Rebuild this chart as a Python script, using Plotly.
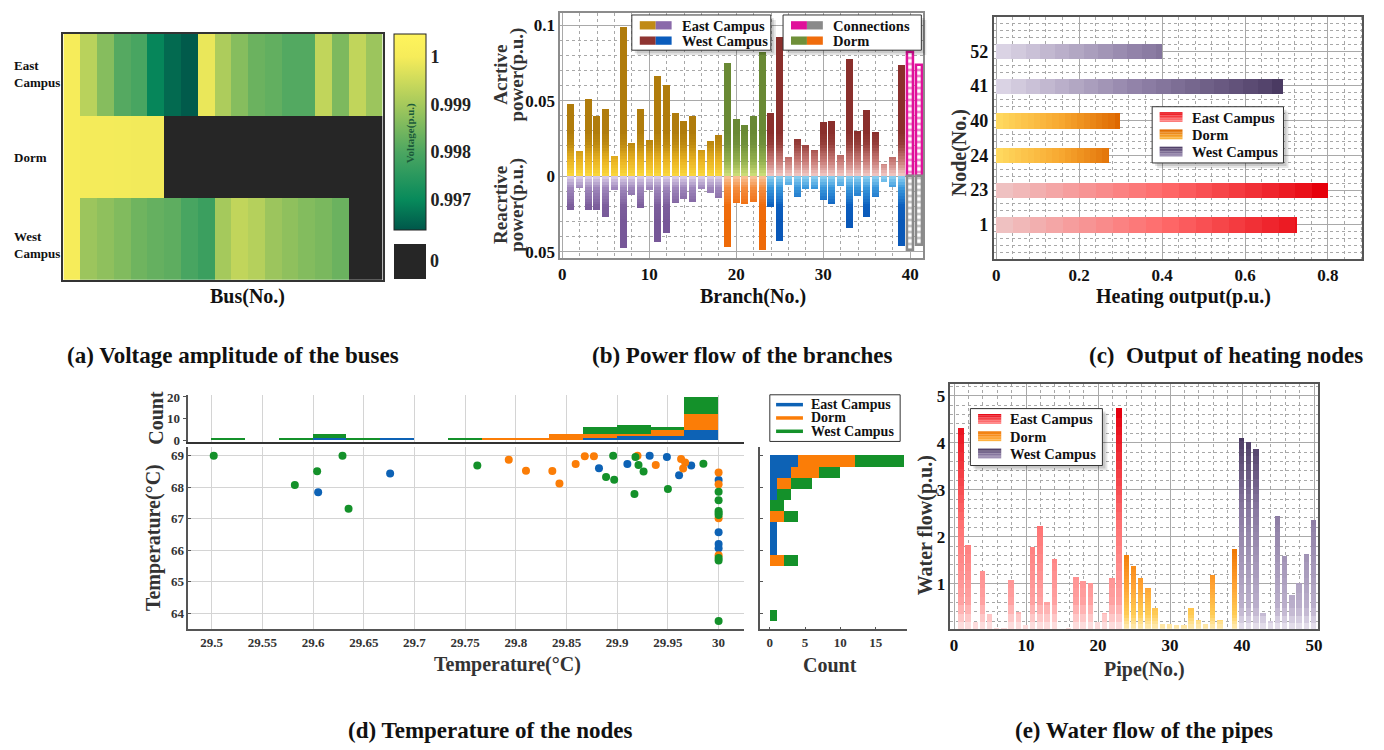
import plotly.graph_objects as go

# the page body has an 8px margin, so the figure is 8px smaller than the window
W, H = 1376, 742
OFF = 8
SERIF = "Liberation Serif, Times New Roman, DejaVu Serif, serif"


def px(x):
    return (x - OFF) / W


def py(y):
    return 1 - (y - OFF) / H


def xdom(a, b):
    return [max(0.0, px(a)), min(1.0, px(b))]


def ydom(bottom, top):
    return [max(0.0, py(bottom)), min(1.0, py(top))]


# ---------------- (a) bus voltages ----------------
bus_ids = list(range(1, 20))
row_pos = [0, 1, 2]
row_names = ["West<br>Campus", "Dorm", "East<br>Campus"]
volt_east = [1.0, 0.99925, 0.99865, 0.9981, 0.99795, 0.99695, 0.9966, 0.99642, 0.99985,
             0.9991, 0.99865, 0.99835, 0.99825, 0.99808, 0.99808, 0.99935, 0.99855, 0.99935, 0.9989]
volt_dorm = [1.0, 0.99998, 0.99997, 0.99996, 0.99995, 0.99995] + [None] * 13
volt_west = [1.0, 0.9989, 0.99875, 0.9986, 0.9984, 0.99828, 0.9982, 0.99795, 0.99775,
             0.9990, 0.99935, 0.9992, 0.9989, 0.99875, 0.99862, 0.99852, 0.99835, None, None]
V_MIN, V_MAX = 0.99637, 1.00048
cb_ticks = [0.997, 0.998, 0.999, 1.0]
cb_labels = ["0.997", "0.998", "0.999", "1"]

# ---------------- (b) branch power flow ----------------
branch_ids = list(range(1, 42))
branch_group = ["East"] * 18 + ["Dorm"] * 5 + ["West"] * 16 + ["Conn"] * 2
active_p = [0.048, 0.0169, 0.051, 0.040, 0.0443, 0.013, 0.099, 0.022, 0.0447, 0.0237,
            0.0664, 0.060, 0.0417, 0.0366, 0.040, 0.0175, 0.023, 0.0274,
            0.075, 0.0377, 0.034, 0.0395, 0.0825,
            0.0417, 0.092, 0.0127, 0.0246, 0.0204, 0.0175, 0.0357, 0.0368, 0.0138, 0.0778,
            0.0296, 0.0439, 0.029, 0.0081, 0.0125, 0.0737,
            0.0822, 0.0735]
reactive_q = [0.0224, 0.0081, 0.0224, 0.0224, 0.0268, 0.0092, 0.0476, 0.0127, 0.0213, 0.0092,
              0.0439, 0.0377, 0.0175, 0.0149, 0.0169, 0.0088, 0.011, 0.0143,
              0.0471, 0.018, 0.0186, 0.0169, 0.0489,
              0.0202, 0.0428, 0.0057, 0.0136, 0.0088, 0.0088, 0.016, 0.0186, 0.0066, 0.0346,
              0.0132, 0.0274, 0.0138, 0.0037, 0.007, 0.046,
              0.0487, 0.0456]

# ---------------- (c) heating output ----------------
heat_nodes = ["1", "23", "24", "40", "41", "52"]
heat_group = ["East", "East", "Dorm", "Dorm", "West", "West"]
heat_out = [0.725, 0.80, 0.272, 0.298, 0.69, 0.398]

# ---------------- (d) node temperatures ----------------
east_x = [29.605, 29.676, 29.882, 29.91, 29.932, 29.949, 29.961, 29.973, 30, 30, 30, 30]
east_y = [67.84, 68.44, 68.61, 68.74, 69.0, 68.96, 68.38, 68.69, 68.23, 66.57, 66.2, 66.06]
dorm_x = [29.793, 29.81, 29.836, 29.843, 29.859, 29.868, 29.877, 29.92, 29.938, 29.963,
          29.965, 29.967, 30, 30, 30, 30]
dorm_y = [68.88, 68.53, 68.52, 68.12, 68.74, 68.99, 68.99, 69.0, 68.71, 68.9,
          68.6, 68.79, 68.47, 68.1, 67.02, 65.84]
west_x = [29.502, 29.582, 29.604, 29.629, 29.635, 29.762, 29.889, 29.896, 29.897, 29.917,
          29.918, 29.921, 29.926, 29.95, 29.985, 30, 30, 30, 30, 30, 30, 30, 30]
west_y = [69.0, 68.07, 68.51, 69.0, 67.32, 68.69, 68.33, 69.0, 68.24, 67.79,
          68.96, 68.71, 68.5, 67.95, 68.75, 67.86, 67.59, 67.25, 67.18, 67.12, 65.75, 65.67, 63.75]
# histogram over supply temperature (x): 15 bins of 1/30 starting at 29.5
tx_centers = [29.5 + (k + 0.5) / 30 for k in range(15)]
tx_width = 1 / 30
tx_east = [0, 0, 0, 1, 0, 1, 0, 0, 0, 0, 0, 1, 2, 2, 5]
tx_dorm = [0, 0, 0, 0, 0, 0, 0, 0, 1, 1, 3, 2, 1, 3, 7]
tx_west = [1, 0, 1, 2, 1, 0, 0, 1, 0, 0, 0, 3, 4, 1, 8]
# histogram over return temperature (y): 15 bins of 0.35 starting at 63.75
ty_centers = [63.75 + 0.35 * (k + 0.5) for k in range(15)]
ty_width = 0.35
ty_east = [0, 0, 0, 0, 0, 0, 1, 1, 1, 0, 0, 1, 1, 3, 4]
ty_dorm = [0, 0, 0, 0, 0, 2, 0, 0, 0, 2, 0, 0, 2, 4, 8]
ty_west = [1, 0, 0, 0, 0, 2, 0, 0, 0, 2, 2, 2, 3, 3, 7]

# ---------------- (e) pipe water flow ----------------
pipe_ids = list(range(1, 51))
pipe_group = ["East"] * 23 + ["Dorm"] * 16 + ["West"] * 11
water_flow = [4.31, 1.82, 0.18, 1.28, 0.36, 0.06, 0.05, 1.09, 0.40, 0.13,
              1.79, 2.24, 0.62, 1.52, 0.03, 0.07, 1.14, 1.06, 1.01, 0.18,
              0.39, 1.12, 4.75, 1.61, 1.37, 1.13, 0.92, 0.48, 0.15, 0.14,
              0.12, 0.12, 0.48, 0.22, 0.15, 1.19, 0.22, 0.03, 1.75, 4.11,
              4.02, 3.86, 0.39, 0.20, 2.44, 1.60, 0.76, 1.02, 1.64, 2.35]

areas = ["East Campus", "Dorm", "West Campus"]
area_keys = ["East", "Dorm", "West"]


# ---------------- styling helpers ----------------
def hex_rgb(h):
    h = h.lstrip('#')
    return tuple(int(h[i:i + 2], 16) for i in (0, 2, 4))


def ramp(stops, t):
    if t <= stops[0][0]:
        return 'rgb(%d,%d,%d)' % hex_rgb(stops[0][1])
    for (v0, c0), (v1, c1) in zip(stops, stops[1:]):
        if t <= v1:
            f = (t - v0) / (v1 - v0)
            a, b = hex_rgb(c0), hex_rgb(c1)
            return 'rgb(%d,%d,%d)' % tuple(round(a[i] + (b[i] - a[i]) * f) for i in range(3))
    return 'rgb(%d,%d,%d)' % hex_rgb(stops[-1][1])


def font(size, color='#111111'):
    return dict(family=SERIF, size=size, weight='bold', color=color)


def gradient_bars(fig, pos, vals, groups, stops, xa, ya, width, sign=1, horizontal=False, n=18):
    """Overlay of clipped copies of the same bars to imitate a colour gradient."""
    for k in range(n):
        vk, ck = [], []
        for v, g in zip(vals, groups):
            if g not in stops or v is None:
                vk.append(None)
                ck.append('white')
                continue
            R = stops[g][-1][0]
            if k == 0:
                vk.append(sign * v)
                ck.append(ramp(stops[g], R))
            else:
                t = R * (1 - k / n)
                vk.append(sign * min(v, t))
                ck.append(ramp(stops[g], t - R / (2 * n)))
        kw = dict(marker=dict(color=ck, line=dict(width=0)), width=width, xaxis=xa, yaxis=ya,
                  showlegend=False, hoverinfo='skip')
        if horizontal:
            fig.add_trace(go.Bar(x=vk, y=pos, orientation='h', **kw))
        else:
            fig.add_trace(go.Bar(x=pos, y=vk, **kw))


fig = go.Figure()

# ---------------- (a) traces ----------------
volt_z = [volt_west, volt_dorm, volt_east]
zero_z = [[0 if v is None else None for v in row] for row in volt_z]
volt_scale = [[0.0, '#00574a'], [0.153, '#078a5b'], [0.397, '#4ca661'], [0.64, '#a5c95c'],
              [0.883, '#f6ec5a'], [1.0, '#fff45c']]
fig.add_trace(go.Heatmap(
    x=bus_ids, y=row_pos, z=volt_z, zmin=V_MIN, zmax=V_MAX, colorscale=volt_scale,
    xaxis='x', yaxis='y', hoverinfo='skip',
    colorbar=dict(x=px(394), xanchor='left', y=py(128.5), yanchor='middle', len=199 / H,
                  lenmode='fraction', thickness=32, thicknessmode='pixels', outlinewidth=1,
                  outlinecolor='#222222', xpad=0, ypad=0, tickvals=cb_ticks, ticktext=cb_labels,
                  ticks='', tickfont=font(18, '#222222'))))
fig.add_trace(go.Heatmap(
    x=bus_ids, y=row_pos, z=zero_z, zmin=-1, zmax=1,
    colorscale=[[0, '#262626'], [1, '#262626']], xaxis='x', yaxis='y', hoverinfo='skip',
    colorbar=dict(x=px(394), xanchor='left', y=py(259.5), yanchor='middle', len=35 / H,
                  lenmode='fraction', thickness=32, thicknessmode='pixels', outlinewidth=0,
                  xpad=0, ypad=0, tickvals=[0], ticktext=['0'], ticks='',
                  tickfont=font(18, '#222222'))))

# ---------------- (b) traces ----------------
act_stops = {
    'East': [(0, '#fbd83c'), (0.01, '#eab423'), (0.022, '#bb870f'), (0.03, '#b07c0c')],
    'Dorm': [(0, '#cfe07a'), (0.01, '#93b04e'), (0.022, '#6f8f39'), (0.03, '#698934')],
    'West': [(0, '#f3cac6'), (0.01, '#c77a76'), (0.022, '#933b37'), (0.03, '#8a2f2c')],
}
rea_stops = {
    'East': [(0, '#ddd0ea'), (0.008, '#a088bc'), (0.02, '#7c5e9c'), (0.03, '#775898')],
    'Dorm': [(0, '#fac49a'), (0.008, '#f48d40'), (0.02, '#f06c0c'), (0.03, '#ee6a08')],
    'West': [(0, '#8fd2f2'), (0.008, '#3a98dc'), (0.02, '#0c5ebe'), (0.03, '#0a58b8')],
}
gradient_bars(fig, branch_ids, active_p, branch_group, act_stops, 'x2', 'y2', 0.8, sign=1, n=16)
gradient_bars(fig, branch_ids, reactive_q, branch_group, rea_stops, 'x2', 'y2', 0.8, sign=-1, n=16)
conn_x = [b for b, g in zip(branch_ids, branch_group) if g == 'Conn']
conn_p = [v for v, g in zip(active_p, branch_group) if g == 'Conn']
conn_q = [-v for v, g in zip(reactive_q, branch_group) if g == 'Conn']
for vals, col in ((conn_p, '#e0109a'), (conn_q, '#8a8a8a')):
    fig.add_trace(go.Bar(
        x=conn_x, y=vals, width=0.72, xaxis='x2', yaxis='y2', showlegend=False, hoverinfo='skip',
        marker=dict(color='white', line=dict(color=col, width=2.5),
                    pattern=dict(shape='-', fgcolor=col, bgcolor='white', size=6, solidity=0.45))))

# ---------------- (c) traces ----------------
heat_pos = list(range(1, len(heat_nodes) + 1))
heat_stops = {
    'East': [(0, '#eec6c6'), (0.4, '#ff6b6b'), (0.8, '#e6000b')],
    'Dorm': [(0, '#ffda60'), (0.15, '#f8aa32'), (0.3, '#de6800')],
    'West': [(0, '#ded7e7'), (0.35, '#8e7fa6'), (0.7, '#4a3a62')],
}
gradient_bars(fig, heat_pos, heat_out, heat_group, heat_stops, 'x3', 'y3', 0.45, horizontal=True, n=20)

# ---------------- (d) traces ----------------
d_cols = {'East': '#0d62b5', 'Dorm': '#fb7d07', 'West': '#14912a'}
tx_counts = {'East': tx_east, 'Dorm': tx_dorm, 'West': tx_west}
ty_counts = {'East': ty_east, 'Dorm': ty_dorm, 'West': ty_west}
base_x = [0] * len(tx_centers)
base_y = [0] * len(ty_centers)
for key in area_keys:
    c = tx_counts[key]
    fig.add_trace(go.Bar(x=tx_centers, y=c, base=base_x, width=tx_width, xaxis='x5', yaxis='y5',
                         marker=dict(color=d_cols[key], line=dict(width=0)), showlegend=False,
                         hoverinfo='skip'))
    base_x = [b + v for b, v in zip(base_x, c)]
    c = ty_counts[key]
    fig.add_trace(go.Bar(y=ty_centers, x=c, base=base_y, width=ty_width, orientation='h',
                         xaxis='x6', yaxis='y6', marker=dict(color=d_cols[key], line=dict(width=0)),
                         showlegend=False, hoverinfo='skip'))
    base_y = [b + v for b, v in zip(base_y, c)]
for key, xs, ys in (('East', east_x, east_y), ('Dorm', dorm_x, dorm_y), ('West', west_x, west_y)):
    fig.add_trace(go.Scatter(x=xs, y=ys, mode='markers', xaxis='x4', yaxis='y4',
                             marker=dict(color=d_cols[key], size=8), showlegend=False,
                             hoverinfo='skip'))

# ---------------- (e) traces ----------------
flow_stops = {
    'East': [(0, '#fde6e6'), (0.6, '#ffa2a2'), (2.2, '#ff7474'), (4.7, '#e5000f')],
    'Dorm': [(0, '#fff3c8'), (0.35, '#ffcc55'), (1.0, '#ffa030'), (1.8, '#ee7400')],
    'West': [(0, '#ebe6f0'), (0.5, '#bcb0cc'), (2.5, '#8a7aa2'), (4.2, '#4a3a62')],
}
gradient_bars(fig, pipe_ids, water_flow, pipe_group, flow_stops, 'x7', 'y7', 0.75, n=26)


# ---------------- axes ----------------
def boxed(domain, rng, anchor, tickvals, ticktext, minor_dtick, size=17, linecolor='#555555'):
    return dict(domain=domain, range=rng, anchor=anchor, tickmode='array', tickvals=tickvals,
                ticktext=ticktext, showgrid=True, gridcolor='#a9a9a9', gridwidth=1, zeroline=False,
                showline=True, mirror=True, linecolor=linecolor, linewidth=1.5, ticks='',
                tickfont=font(size), fixedrange=True,
                minor=dict(tickmode='linear', tick0=0, dtick=minor_dtick, showgrid=True,
                           gridcolor='#a8a8a8', griddash='dot', gridwidth=1, ticks=''))


d_font = font(13, '#333333')
lay = dict(
    width=W, height=H, margin=dict(l=0, r=0, t=0, b=0),
    paper_bgcolor='white', plot_bgcolor='white', barmode='overlay', bargap=0,
    showlegend=False,
    xaxis=dict(domain=xdom(61.7, 382.7), range=[0.5, 19.5], anchor='y', showticklabels=False,
               ticks='', showgrid=False, zeroline=False, showline=True, mirror=True,
               linecolor='#333333', linewidth=1.5),
    yaxis=dict(domain=ydom(278.3, 29.3), range=[-0.5, 2.5], anchor='x', showticklabels=False,
               ticks='', showgrid=False, zeroline=False, showline=True, mirror=True,
               linecolor='#333333', linewidth=1.5),
    xaxis2=boxed(xdom(561, 926), [-0.25, 41.5], 'y2', [0, 10, 20, 30, 40],
                 ['0', '10', '20', '30', '40'], 2, linecolor='#8c8c8c'),
    yaxis2=boxed(ydom(256, 8), [-0.054, 0.108], 'x2', [-0.05, 0, 0.05, 0.1],
                 ['0.05', '0', '0.05', '0.1'], 0.01, linecolor='#8c8c8c'),
    xaxis3=boxed(xdom(996.7, 1367.3), [-0.006, 0.883], 'y3', [0, 0.2, 0.4, 0.6, 0.8],
                 ['0', '0.2', '0.4', '0.6', '0.8'], 0.04),
    yaxis3=boxed(ydom(257.7, 11.7), [0, 7], 'x3', heat_pos, heat_nodes, 0.2, size=18),
    xaxis7=boxed(xdom(953.3, 1322.3), [-0.5, 50.5], 'y7', [0, 10, 20, 30, 40, 50],
                 ['0', '10', '20', '30', '40', '50'], 2),
    yaxis7=boxed(ydom(632.3, 384), [0.04, 5.25], 'x7', [1, 2, 3, 4, 5],
                 ['1', '2', '3', '4', '5'], 0.2),
)
tx_ticks = [29.5, 29.55, 29.6, 29.65, 29.7, 29.75, 29.8, 29.85, 29.9, 29.95, 30.0]
tx_labels = ['29.5', '29.55', '29.6', '29.65', '29.7', '29.75', '29.8', '29.85', '29.9', '29.95', '30']
ty_ticks = [64, 65, 66, 67, 68, 69]
lay['xaxis4'] = dict(domain=xdom(187.3, 745.7), range=[29.477, 30.025], anchor='y4',
                     tickmode='array', tickvals=tx_ticks, ticktext=tx_labels, showgrid=True,
                     gridcolor='#d4d4d4', zeroline=False, showline=True, linecolor='#555555',
                     linewidth=1.5, ticks='', tickfont=d_font)
lay['yaxis4'] = dict(domain=ydom(632.7, 448.3), range=[63.486, 69.27], anchor='x4',
                     tickmode='array', tickvals=ty_ticks, ticktext=[str(t) for t in ty_ticks],
                     showgrid=True, gridcolor='#d4d4d4', zeroline=False, showline=True,
                     linecolor='#555555', linewidth=1.5, ticks='inside', ticklen=3,
                     tickcolor='#555555', tickfont=d_font)
lay['xaxis5'] = dict(domain=xdom(187.3, 745.7), range=[29.477, 30.025], anchor='y5',
                     tickmode='array', tickvals=tx_ticks, showticklabels=False, showgrid=True,
                     gridcolor='#d4d4d4', zeroline=False, showline=True, linecolor='#333333',
                     linewidth=1.5, ticks='')
lay['yaxis5'] = dict(domain=ydom(443.3, 395), range=[-1.05, 21], anchor='x5',
                     tickmode='array', tickvals=[0, 10, 20], ticktext=['0', '10', '20'],
                     showgrid=False, zeroline=False, showline=True, linecolor='#555555',
                     linewidth=1.5, ticks='outside', ticklen=4, tickcolor='#555555',
                     tickfont=d_font)
lay['xaxis6'] = dict(domain=xdom(761.7, 910), range=[-1.4, 19.5], anchor='y6',
                     tickmode='array', tickvals=[0, 5, 10, 15], ticktext=['0', '5', '10', '15'],
                     showgrid=False, zeroline=False, showline=True, linecolor='#555555',
                     linewidth=1.5, ticks='inside', ticklen=3, tickcolor='#555555', tickfont=d_font)
lay['yaxis6'] = dict(domain=ydom(632.7, 448.3), range=[63.486, 69.27], anchor='x6',
                     tickmode='array', tickvals=ty_ticks, showticklabels=False, showgrid=False,
                     zeroline=False, showline=True, linecolor='#555555', linewidth=1.5,
                     ticks='inside', ticklen=3, tickcolor='#555555')

# ---------------- annotations ----------------
ann = []


def text(x, y, s, size, angle=0, color='#111111', xanchor='center', align='center'):
    ann.append(dict(x=px(x), y=py(y), xref='paper', yref='paper', text=s, showarrow=False,
                    textangle=angle, font=font(size, color), xanchor=xanchor, yanchor='middle',
                    align=align))


row_label_y = {0: 243, 1: 154, 2: 70}
for r, name in zip(row_pos, row_names):
    text(10, row_label_y[r], name, 13, xanchor='left', align='left')
text(410, 130, 'Voltage(p.u.)', 11, angle=-90, color='#1b5a3a')
text(247, 295, 'Bus(No.)', 20)
text(755, 295, 'Branch(No.)', 20)
text(501, 70, 'Acrtive', 19, angle=-90, color='#333333')
text(518, 70, 'power(p.u.)', 19, angle=-90, color='#333333')
text(501, 202, 'Reacrtive', 19, angle=-90, color='#333333')
text(518, 202, 'power(p.u.)', 19, angle=-90, color='#333333')
text(1188, 295, 'Heating output(p.u.)', 20)
text(962, 150, 'Node(No.)', 20, angle=-90, color='#333333')
text(155, 418, 'Count', 20, angle=-90, color='#333333')
text(153, 540, 'Temperature(\u00b0C)', 20, angle=-90, color='#333333')
text(508, 668, 'Temperature(\u00b0C)', 20, color='#333333')
text(832, 669, 'Count', 20, color='#333333')
text(928, 527, 'Water flow(p.u.)', 20, angle=-90, color='#333333')
text(1148, 673, 'Pipe(No.)', 20, color='#333333')
text(232, 355, '(a) Voltage amplitude of the buses', 23)
text(744, 355, '(b) Power flow of the branches', 23)
text(1230, 355, '(c)  Output of heating nodes', 23)
text(491, 735, '(d) Temperature of the nodes', 23)
text(1148, 735, '(e) Water flow of the pipes', 23)

# ---------------- legends (boxes, swatches and labels) ----------------
shapes = []


def rect(x0, y0, x1, y1, fill, line='rgba(0,0,0,0)', lw=0):
    shapes.append(dict(type='rect', xref='paper', yref='paper', x0=px(x0), x1=px(x1),
                       y0=py(y1), y1=py(y0), fillcolor=fill, line=dict(color=line, width=lw),
                       layer='above'))


def hline(x0, x1, y, color, lw):
    shapes.append(dict(type='line', xref='paper', yref='paper', x0=px(x0), x1=px(x1),
                       y0=py(y), y1=py(y), line=dict(color=color, width=lw), layer='above'))


def box(x0, y0, x1, y1, shadow=True):
    if shadow:
        rect(x0 + 5, y0 + 5, x1 + 5, y1 + 5, 'rgba(0,0,0,0.10)')
        rect(x0 + 3, y0 + 3, x1 + 3, y1 + 3, 'rgba(0,0,0,0.12)')
    rect(x0, y0, x1, y1, 'white', '#333333', 1)


# (b): two-colour swatches
b_leg = [
    (633, 772.7, [('East Campus', '#c08a16', '#8a6aaa'), ('West Campus', '#8e3431', '#0a5cbc')]),
    (785, 924, [('Connections', '#e0109a', '#8a8a8a'), ('Dorm', '#6f8f39', '#f06c0c')]),
]
for x0, x1, items in b_leg:
    box(x0, 10, x1, 45.7)
    for i, (name, c1, c2) in enumerate(items):
        yc = 20.5 + 15.5 * i
        rect(x0 + 8, yc - 4.2, x0 + 24, yc + 4.2, c1)
        rect(x0 + 24, yc - 4.2, x0 + 40, yc + 4.2, c2)
        text(x0 + 48, yc + 0.5, name, 14.5, xanchor='left', align='left')


def grad_swatch(x0, x1, yc, hh, stops, n=6):
    R = stops[-1][0]
    for k in range(n):
        t = R * (0.35 + 0.65 * (k + 0.5) / n)
        y0 = yc + hh - 2 * hh * k / n
        rect(x0, y0 - 2 * hh / n, x1, y0, ramp(stops, t))


# (c)
box(1156, 103, 1288, 160)
for i, (name, key) in enumerate(zip(areas, area_keys)):
    yc = 113.5 + 17.5 * i
    grad_swatch(1163.5, 1186.5, yc, 5, heat_stops[key])
    text(1194, yc + 0.5, name, 14.5, xanchor='left', align='left')

# (d) line swatches
box(771.7, 395, 902.7, 442.3, shadow=False)
for i, (name, key) in enumerate(zip(areas, area_keys)):
    yc = 405 + 13.5 * i
    hline(778, 805, yc, d_cols[key], 3.5)
    text(811.5, yc, name, 14, xanchor='left', align='left')

# (e)
box(973.3, 409, 1106, 466.7)
for i, (name, key) in enumerate(zip(areas, area_keys)):
    yc = 419.5 + 17.5 * i
    grad_swatch(981, 1004.3, yc, 5, flow_stops[key])
    text(1011, yc + 0.5, name, 14.5, xanchor='left', align='left')

lay['annotations'] = ann
lay['shapes'] = shapes
fig.update_layout(**lay)
fig.write_html('out.html')
